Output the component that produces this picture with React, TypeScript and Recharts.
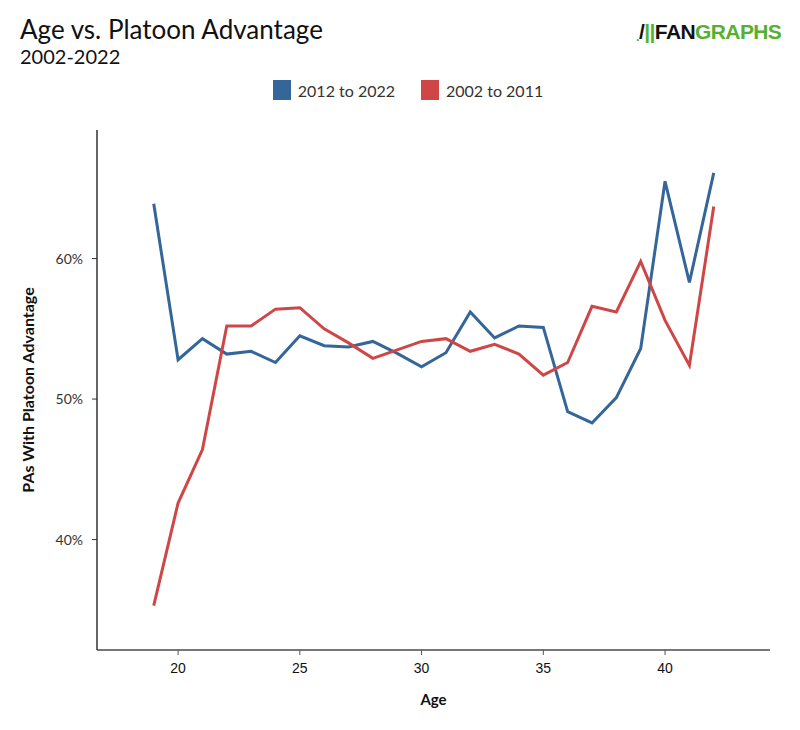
import React from "react";
import { LineChart, Line, XAxis, YAxis, Label } from "recharts";

// Age 19..42
const ages = [19, 20, 21, 22, 23, 24, 25, 26, 27, 28, 29, 30, 31, 32, 33, 34, 35, 36, 37, 38, 39, 40, 41, 42];

const recent = [
  63.9, 52.8, 54.3, 53.2, 53.4, 52.6, 54.5, 53.8, 53.7, 54.1, 53.25, 52.3,
  53.3, 56.2, 54.35, 55.2, 55.1, 49.1, 48.3, 50.1, 53.6, 65.5, 58.3, 66.1,
];

const earlier = [
  35.3, 42.6, 46.4, 55.2, 55.2, 56.4, 56.5, 55.0, 54.0, 52.9, 53.5, 54.1,
  54.3, 53.4, 53.9, 53.2, 51.7, 52.6, 56.6, 56.2, 59.8, 55.6, 52.4, 63.7,
];

const xTicks = [20, 25, 30, 35, 40];
const yTicks = [0.4, 0.5, 0.6];

const SERIES = [
  { key: "recent", name: "2012 to 2022", color: "#346699" },
  { key: "earlier", name: "2002 to 2011", color: "#cf4647" },
];

const data = ages.map((age, i) => ({
  age,
  recent: recent[i] / 100,
  earlier: earlier[i] / 100,
}));

const LATO = "Lato, 'Noto Sans', sans-serif";

export default function App() {
  return (
    <div
      style={{
        position: "relative",
        width: 800,
        height: 730,
        margin: "-8px 0 0 -8px",
        background: "#fff",
        fontFamily: LATO,
      }}
    >
      <div style={{ position: "absolute", left: 20, top: 13, fontSize: 26, color: "#111" }}>
        Age vs. Platoon Advantage
      </div>
      <div style={{ position: "absolute", left: 20, top: 44, fontSize: 20, color: "#111" }}>
        2002-2022
      </div>

      {/* logo */}
      <div
        style={{
          position: "absolute",
          left: 636,
          top: 20,
          fontFamily: "'Liberation Sans', Arial, sans-serif",
          fontWeight: 700,
          fontSize: 21,
          letterSpacing: -0.6,
          display: "flex",
          alignItems: "flex-end",
        }}
      >
        <span style={{ color: "#56b130", fontSize: 13 }}>.</span>
        <span style={{ color: "#111" }}>/</span>
        <span style={{ color: "#56b130" }}>||</span>
        <span style={{ color: "#111" }}>FAN</span>
        <span style={{ color: "#56b130" }}>GRAPHS</span>
      </div>

      {/* legend */}
      <div
        style={{
          position: "absolute",
          top: 80,
          left: 0,
          width: 816,
          display: "flex",
          justifyContent: "center",
          fontSize: 16,
          color: "#333",
        }}
      >
        {SERIES.map((s) => (
          <div key={s.key} style={{ display: "flex", alignItems: "center", margin: "0 13px" }}>
            <span style={{ width: 18, height: 20, background: s.color, marginRight: 7 }} />
            <span>{s.name}</span>
          </div>
        ))}
      </div>

      <div style={{ position: "absolute", left: 0, top: 0 }}>
        <LineChart
          width={800}
          height={730}
          data={data}
          margin={{ top: 130, right: 30, bottom: 0, left: 0 }}
        >
          <XAxis
            dataKey="age"
            type="number"
            domain={[16.67, 44.31]}
            allowDataOverflow
            ticks={xTicks}
            height={80}
            tickSize={5}
            tickMargin={8}
            axisLine={{ stroke: "#777", strokeWidth: 2 }}
            tickLine={{ stroke: "#555" }}
            tick={{ fill: "#111", fontSize: 14, fontFamily: "'Liberation Sans', Arial, sans-serif" }}
          >
            <Label
              value="Age"
              position="insideBottom"
              offset={25}
              style={{ fill: "#111", fontSize: 15, fontWeight: 700, fontFamily: LATO }}
            />
          </XAxis>
          <YAxis
            type="number"
            domain={[0.3214, 0.6915]}
            allowDataOverflow
            ticks={yTicks}
            width={97}
            tickSize={5}
            tickMargin={9}
            tickFormatter={(v) => `${Math.round(v * 100)}%`}
            axisLine={{ stroke: "#333", strokeWidth: 1.5 }}
            tickLine={{ stroke: "#333" }}
            tick={{ fill: "#333", fontSize: 14, fontFamily: LATO }}
          >
            <Label
              value="PAs With Platoon Advantage"
              angle={-90}
              position="insideLeft"
              offset={28}
              style={{ textAnchor: "middle", fill: "#111", fontSize: 16, fontWeight: 700, fontFamily: LATO }}
            />
          </YAxis>
          {SERIES.map((s) => (
            <Line
              key={s.key}
              dataKey={s.key}
              name={s.name}
              type="linear"
              stroke={s.color}
              strokeWidth={3}
              dot={false}
              activeDot={false}
              isAnimationActive={false}
            />
          ))}
        </LineChart>
      </div>
    </div>
  );
}
